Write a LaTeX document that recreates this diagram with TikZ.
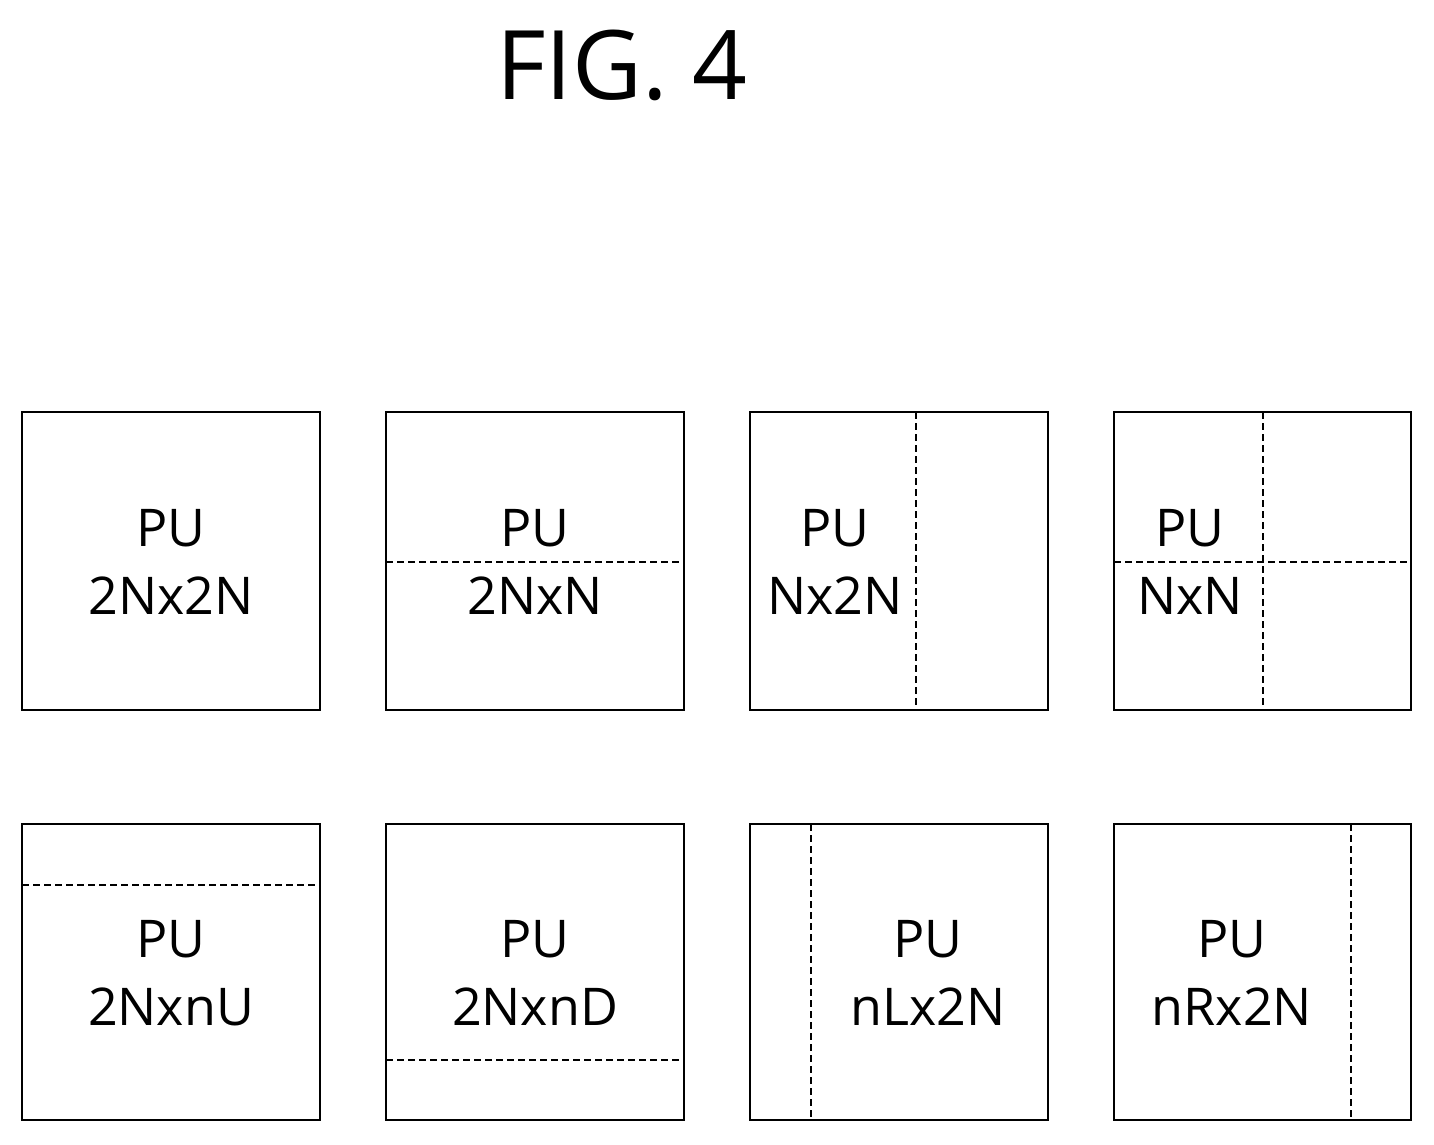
\documentclass[tikz,border=0pt]{standalone}
\usepackage{fontspec}
\setmainfont{Open Sans}
\begin{document}
\begin{tikzpicture}[x=1pt,y=-1pt,
 box/.style={draw,line width=2pt},
 dsh/.style={line width=1.5pt,dash pattern=on 7pt off 4pt},
 lbl/.style={font=\fontsize{52}{68}\selectfont,align=center}]
\useasboundingbox (0,0) rectangle (1434,1144);
\node[font=\fontsize{96}{100}\selectfont] (title) at (622,65) {FIG. 4};
% row 1
\draw[box] (22,412) rectangle (320,710);
\draw[box] (386,412) rectangle (684,710);
\draw[box] (750,412) rectangle (1048,710);
\draw[box] (1114,412) rectangle (1411,710);
\draw[dsh] (386,562) -- (684,562);
\draw[dsh] (916,412) -- (916,710);
\draw[dsh] (1263,412) -- (1263,710);
\draw[dsh] (1114,562) -- (1411,562);
\node[lbl] (a) at (171,562) {PU\\2Nx2N};
\node[lbl] (b) at (535,562) {PU\\2NxN};
\node[lbl] (c) at (835,562) {PU\\Nx2N};
\node[lbl] (d) at (1190,562) {PU\\NxN};
% row 2
\draw[box] (22,824) rectangle (320,1120);
\draw[box] (386,824) rectangle (684,1120);
\draw[box] (750,824) rectangle (1048,1120);
\draw[box] (1114,824) rectangle (1411,1120);
\draw[dsh] (22,885) -- (320,885);
\draw[dsh] (386,1060) -- (684,1060);
\draw[dsh] (811,824) -- (811,1120);
\draw[dsh] (1351,824) -- (1351,1120);
\node[lbl] (e) at (171,973) {PU\\2NxnU};
\node[lbl] (f) at (535,973) {PU\\2NxnD};
\node[lbl] (g) at (928,973) {PU\\nLx2N};
\node[lbl] (h) at (1232,973) {PU\\nRx2N};
\end{tikzpicture}
\end{document}
